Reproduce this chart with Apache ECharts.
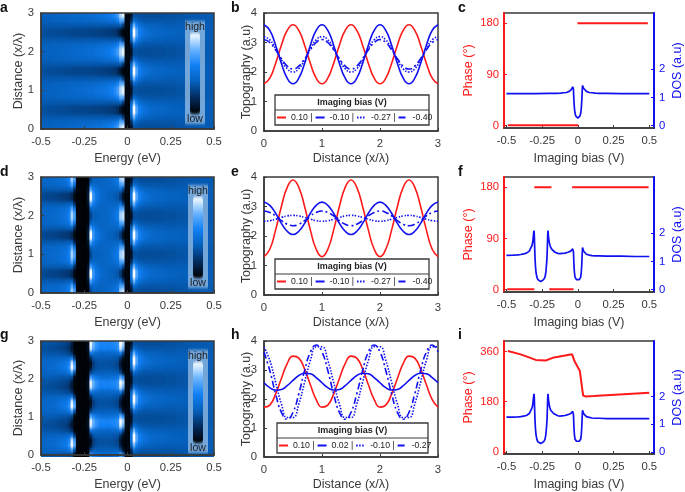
<!DOCTYPE html>
<html>
<head>
<meta charset="utf-8">
<title>Topography panels</title>
<script src="https://cdn.jsdelivr.net/npm/echarts@6/dist/echarts.min.js"></script>
<style>
  html, body { margin: 0; background: #fff; }
  .layer { position: absolute; left: 0; top: 0; width: 685px; height: 492px; }
  #heat { filter: url(#soften); }
</style>
</head>
<body>
<svg width="0" height="0" style="position:absolute">
  <filter id="soften" x="0" y="0" width="100%" height="100%" color-interpolation-filters="sRGB">
    <feGaussianBlur stdDeviation="0.6 1.5"/>
    <feComponentTransfer><feFuncA type="linear" slope="40" intercept="-19"/></feComponentTransfer>
  </filter>
</svg>
<div id="heat" class="layer"></div>
<div id="main" class="layer"></div>
<script>
// heat maps: one period of rows (bottom to top), left half and right half of the energy range
var heatRight = [
  [3,8,34,34,33,33,33,33,33,33,33,33,33,33,34,34,34,34,35,35,35,36,36,36,37,37,37,38,38,38,38,38],
  [3,20,48,42,38,37,36,36,36,36,36,36,36,36,36,36,36,36,37,37,37,37,37,38,38,38,38,38,38,38,38,38],
  [2,40,80,60,50,46,44,42,41,41,40,40,40,40,39,39,39,39,39,39,39,39,39,39,39,39,39,39,39,39,39,39],
  [2,52,100,74,60,54,50,48,46,45,44,44,43,43,42,42,41,41,41,40,40,40,40,40,39,39,39,39,39,39,39,39],
  [2,52,100,74,60,54,50,48,46,45,44,44,43,43,42,42,41,41,41,40,40,40,40,40,39,39,39,39,39,39,39,39],
  [2,40,80,60,50,46,44,42,41,41,40,40,40,40,39,39,39,39,39,39,39,39,39,39,39,39,39,39,39,39,39,39],
  [3,20,48,42,38,37,36,36,36,36,36,36,36,36,36,36,36,36,37,37,37,37,37,38,38,38,38,38,38,38,38,38],
  [3,8,34,34,33,33,33,33,33,33,33,33,33,33,34,34,34,34,35,35,35,36,36,36,37,37,37,38,38,38,38,38]
];
var heatLeftA = [
  [41,41,41,41,42,42,42,43,43,44,44,45,45,46,46,47,47,48,48,49,50,51,52,53,55,57,60,64,72,90,97,4],
  [40,40,40,40,41,41,41,41,42,42,42,43,43,43,44,44,44,45,45,45,46,46,47,48,49,50,52,54,60,76,74,4],
  [37,37,37,37,37,37,37,37,37,37,37,37,37,37,37,37,37,37,37,37,37,37,37,37,37,37,37,37,38,40,25,3],
  [34,34,33,33,33,32,32,32,31,31,31,30,30,30,30,30,30,30,29,29,29,28,28,27,27,26,25,24,20,10,3,2],
  [34,34,33,33,33,32,32,32,31,31,31,30,30,30,30,30,30,30,29,29,29,28,28,27,27,26,25,24,20,10,3,2],
  [37,37,37,37,37,37,37,37,37,37,37,37,37,37,37,37,37,37,37,37,37,37,37,37,37,37,37,37,38,40,25,3],
  [40,40,40,40,41,41,41,41,42,42,42,43,43,43,44,44,44,45,45,45,46,46,47,48,49,50,52,54,60,76,74,4],
  [41,41,41,41,42,42,42,43,43,44,44,45,45,46,46,47,47,48,48,49,50,51,52,53,55,57,60,64,72,90,97,4]
];
var heatLeftD = [
  [44,44,45,45,46,46,47,48,50,53,60,88,72,3,1,1,1,2,30,40,40,41,42,43,44,46,48,52,58,88,92,4],
  [43,43,44,44,45,45,46,47,48,50,55,74,52,3,1,1,1,3,42,46,44,43,43,43,44,45,46,48,52,72,74,4],
  [38,38,38,38,38,38,38,38,38,39,40,42,20,2,1,1,1,8,72,58,50,46,44,43,43,43,43,43,45,50,30,3],
  [32,31,30,30,29,29,28,27,26,25,24,18,4,1,0,0,0,12,100,68,56,50,46,44,42,41,40,38,36,26,8,2],
  [32,31,30,30,29,29,28,27,26,25,24,18,4,1,0,0,0,12,100,68,56,50,46,44,42,41,40,38,36,26,8,2],
  [38,38,38,38,38,38,38,38,38,39,40,42,20,2,1,1,1,8,72,58,50,46,44,43,43,43,43,43,45,50,30,3],
  [43,43,44,44,45,45,46,47,48,50,55,74,52,3,1,1,1,3,42,46,44,43,43,43,44,45,46,48,52,72,74,4],
  [44,44,45,45,46,46,47,48,50,53,60,88,72,3,1,1,1,2,30,40,40,41,42,43,44,46,48,52,58,88,92,4]
];
var heatLeftG = [
  [39,39,39,38,38,38,37,37,36,36,34,30,4,1,1,1,1,4,72,62,56,52,50,49,49,50,51,52,55,76,64,4],
  [42,42,43,43,44,44,45,46,47,49,54,70,35,2,1,1,1,3,30,38,39,40,40,40,40,40,40,40,40,30,10,2],
  [44,44,45,46,47,48,50,52,55,58,66,100,78,4,1,1,1,2,8,28,33,35,35,35,35,35,34,33,30,14,3,2],
  [44,44,45,45,46,47,48,50,52,55,62,94,70,4,1,1,1,2,5,26,32,34,34,34,34,34,33,32,28,10,3,2],
  [41,41,41,42,42,42,43,43,44,45,47,55,25,2,1,1,1,3,20,35,38,38,38,38,38,38,37,36,35,22,6,2],
  [37,37,36,36,36,35,35,34,33,32,29,22,3,1,0,1,1,4,52,50,46,45,44,44,44,44,45,45,46,55,30,3],
  [33,33,33,32,32,31,30,29,28,26,22,10,2,1,0,1,2,8,94,76,66,62,60,60,60,60,61,62,66,94,80,4],
  [35,35,35,34,34,33,32,31,30,29,26,14,2,1,0,1,2,7,98,80,68,64,62,62,62,62,63,64,68,100,90,4]
];
var heatColors = ['#000000', '#032a5c', '#0560bc', '#1080f5', '#6ab4ff', '#ffffff'];

// topography line cuts, x in units of lambda
var distance = [0,0.1,0.2,0.3,0.4,0.5,0.6,0.7,0.8,0.9,1,1.1,1.2,1.3,1.4,1.5,1.6,1.7,1.8,1.9,2,2.1,2.2,2.3,2.4,2.5,2.6,2.7,2.8,2.9,3];

var topoB1 = [1.6,1.79,2.29,2.91,3.41,3.6,3.41,2.91,2.29,1.79,1.6,1.79,2.29,2.91,3.41,3.6,3.41,2.91,2.29,1.79,1.6,1.79,2.29,2.91,3.41,3.6,3.41,2.91,2.29,1.79,1.6];
var topoB2 = [3.6,3.41,2.91,2.29,1.79,1.6,1.79,2.29,2.91,3.41,3.6,3.41,2.91,2.29,1.79,1.6,1.79,2.29,2.91,3.41,3.6,3.41,2.91,2.29,1.79,1.6,1.79,2.29,2.91,3.41,3.6];
var topoB3 = [3.2,3.09,2.79,2.41,2.11,2,2.11,2.41,2.79,3.09,3.2,3.09,2.79,2.41,2.11,2,2.11,2.41,2.79,3.09,3.2,3.09,2.79,2.41,2.11,2,2.11,2.41,2.79,3.09,3.2];
var topoB4 = [3.1,3,2.75,2.45,2.2,2.1,2.2,2.45,2.75,3,3.1,3,2.75,2.45,2.2,2.1,2.2,2.45,2.75,3,3.1,3,2.75,2.45,2.2,2.1,2.2,2.45,2.75,3,3.1];

var topoE1 = [1.3,1.55,2.2,3,3.65,3.9,3.65,3,2.2,1.55,1.3,1.55,2.2,3,3.65,3.9,3.65,3,2.2,1.55,1.3,1.55,2.2,3,3.65,3.9,3.65,3,2.2,1.55,1.3];
var topoE2 = [3.15,3.04,2.77,2.43,2.16,2.05,2.16,2.43,2.77,3.04,3.15,3.04,2.77,2.43,2.16,2.05,2.16,2.43,2.77,3.04,3.15,3.04,2.77,2.43,2.16,2.05,2.16,2.43,2.77,3.04,3.15];
var topoE3 = [2.5,2.52,2.57,2.63,2.68,2.7,2.68,2.63,2.57,2.52,2.5,2.52,2.57,2.63,2.68,2.7,2.68,2.63,2.57,2.52,2.5,2.52,2.57,2.63,2.68,2.7,2.68,2.63,2.57,2.52,2.5];
var topoE4 = [2.85,2.8,2.68,2.52,2.4,2.35,2.4,2.52,2.68,2.8,2.85,2.8,2.68,2.52,2.4,2.35,2.4,2.52,2.68,2.8,2.85,2.8,2.68,2.52,2.4,2.35,2.4,2.52,2.68,2.8,2.85];

var topoH1 = [1.72,1.79,2.17,2.71,3.22,3.48,3.41,3.03,2.49,1.98,1.72,1.79,2.17,2.71,3.22,3.48,3.41,3.03,2.49,1.98,1.72,1.79,2.17,2.71,3.22,3.48,3.41,3.03,2.49,1.98,1.72];
var topoH2 = [2.56,2.39,2.31,2.33,2.46,2.64,2.81,2.89,2.87,2.74,2.56,2.39,2.31,2.33,2.46,2.64,2.81,2.89,2.87,2.74,2.56,2.39,2.31,2.33,2.46,2.64,2.81,2.89,2.87,2.74,2.56];
var topoH3 = [3.8,3.33,2.58,1.83,1.36,1.36,1.83,2.58,3.33,3.8,3.8,3.33,2.58,1.83,1.36,1.36,1.83,2.58,3.33,3.8,3.8,3.33,2.58,1.83,1.36,1.36,1.83,2.58,3.33,3.8,3.8];
var topoH4 = [3.62,2.98,2.18,1.54,1.3,1.54,2.18,2.98,3.62,3.86,3.62,2.98,2.18,1.54,1.3,1.54,2.18,2.98,3.62,3.86,3.62,2.98,2.18,1.54,1.3,1.54,2.18,2.98,3.62,3.86,3.62];

var legendB = ['0.10 |', '-0.10 |', '-0.27 |', '-0.40'];
var legendH = ['0.10 |', '0.02 |', '-0.10 |', '-0.27'];

// phase and DOS against imaging bias
var phaseXC = [-0.49,0.003,0.003,-0.003,0.49];
var phaseC = [1,1,null,180,180];
var biasC = [-0.5,-0.4,-0.3,-0.2,-0.15,-0.12,-0.1,-0.08,-0.07,-0.06,-0.05,-0.045,-0.04,-0.036,-0.033,-0.031,-0.029,-0.027,-0.024,-0.02,-0.015,-0.01,0,0.01,0.015,0.02,0.024,0.027,0.029,0.031,0.033,0.036,0.04,0.045,0.05,0.06,0.07,0.08,0.1,0.12,0.15,0.2,0.3,0.4,0.5];
var dosC = [1.14,1.14,1.14,1.15,1.15,1.16,1.17,1.18,1.2,1.22,1.26,1.29,1.33,1.38,1.43,1.3,1.05,0.85,0.62,0.45,0.35,0.3,0.27,0.3,0.35,0.45,0.62,0.85,1.05,1.3,1.43,1.38,1.33,1.29,1.26,1.22,1.2,1.18,1.17,1.16,1.15,1.15,1.14,1.14,1.14];

var phaseXF = [-0.495,-0.305,-0.305,-0.305,-0.185,-0.185,-0.2,-0.03,-0.03,-0.04,0.495];
var phaseF = [1,1,null,180,180,null,1,1,null,180,180];
var biasF = [-0.5,-0.45,-0.42,-0.4,-0.38,-0.36,-0.35,-0.34,-0.33,-0.32,-0.315,-0.31,-0.307,-0.305,-0.303,-0.3,-0.297,-0.293,-0.287,-0.28,-0.27,-0.26,-0.25,-0.24,-0.23,-0.224,-0.22,-0.216,-0.213,-0.211,-0.209,-0.205,-0.2,-0.195,-0.19,-0.18,-0.17,-0.16,-0.14,-0.125,-0.11,-0.09,-0.07,-0.06,-0.05,-0.045,-0.04,-0.036,-0.033,-0.031,-0.029,-0.027,-0.024,-0.02,-0.015,-0.01,0,0.01,0.015,0.02,0.024,0.027,0.029,0.031,0.033,0.036,0.04,0.045,0.05,0.06,0.07,0.08,0.1,0.12,0.15,0.2,0.3,0.4,0.5];
var dosF = [1.22,1.23,1.24,1.25,1.27,1.3,1.33,1.37,1.44,1.58,1.72,1.98,2.1,1.95,1.6,1.15,0.85,0.62,0.45,0.36,0.31,0.29,0.31,0.36,0.45,0.62,0.85,1.15,1.6,1.95,2.1,1.85,1.68,1.58,1.5,1.42,1.37,1.33,1.29,1.28,1.29,1.3,1.33,1.35,1.37,1.39,1.42,1.45,1.5,1.35,1.1,0.85,0.62,0.45,0.38,0.36,0.35,0.36,0.38,0.45,0.62,0.85,1.1,1.35,1.5,1.43,1.37,1.33,1.3,1.26,1.24,1.23,1.21,1.2,1.2,1.19,1.19,1.18,1.18];

var phaseXI = [-0.49,-0.4,-0.295,-0.225,-0.167,-0.04,-0.023,0.014,0.037,0.053,0.11,0.5];
var phaseI = [362,350,330,328,339,350,325,290,202,199,200,212];
var dosI = [1.25,1.25,1.26,1.27,1.29,1.31,1.34,1.38,1.45,1.59,1.73,1.98,2.09,1.95,1.6,1.15,0.85,0.62,0.45,0.36,0.32,0.3,0.32,0.36,0.45,0.62,0.85,1.15,1.6,1.95,2.09,1.85,1.68,1.58,1.5,1.43,1.38,1.34,1.3,1.29,1.3,1.31,1.34,1.36,1.38,1.4,1.43,1.46,1.5,1.35,1.1,0.85,0.62,0.46,0.4,0.38,0.38,0.38,0.4,0.46,0.62,0.85,1.1,1.35,1.5,1.44,1.38,1.34,1.31,1.27,1.25,1.24,1.22,1.21,1.21,1.2,1.2,1.2,1.2];

var panelLabels = [
  ['a', 0, 1], ['b', 231, 1], ['c', 458, 1],
  ['d', 0, 165], ['e', 231, 165], ['f', 458, 165],
  ['g', 0, 328], ['h', 231, 328], ['i', 458, 328]
];

var INK = '#3a3a3a', RED = '#ff1a1a', BLUE = '#1010f0';
var LONG_DASH = [7, 3, 2, 3];
var TICK_FONT = 11.3;

var grids = [], xAxes = [], yAxes = [], seriesList = [], legends = [], boxes = [], barTexts = [];
// the heat maps sit in their own softened layer under the axes
var heatGrids = [], heatX = [], heatY = [], heatSeries = [], heatMaps = [];

function pairs(xs, ys) {
  return xs.map(function (x, i) { return [x, ys[i]]; });
}

function tickedAxis(extra) {
  var axis = {
    type: 'value',
    axisLine: { show: true, onZero: false, lineStyle: { color: INK, width: 1.5 } },
    axisTick: { show: true, inside: true, length: 3, lineStyle: { color: INK } },
    axisLabel: { color: INK, fontSize: TICK_FONT, margin: 7, fontFamily: 'Liberation Sans' },
    nameTextStyle: { color: INK, fontSize: 12.5, fontFamily: 'Liberation Sans' },
    nameLocation: 'middle',
    nameMoveOverlap: false,
    splitLine: { show: false }
  };
  return Object.assign(axis, extra);
}

function addGrid(left, top, width, height) {
  grids.push({
    left: left, top: top, width: width, height: height,
    show: true, borderColor: INK, borderWidth: 1.5, backgroundColor: 'transparent'
  });
  return grids.length - 1;
}

function addHeatPanel(box, leftRows, bar) {
  var g = addGrid(box[0], box[1], box[2], box[3]);
  xAxes.push(tickedAxis({ gridIndex: g, position: 'bottom', min: -0.5, max: 0.5, interval: 0.25, name: 'Energy (eV)', nameGap: 23 }));
  yAxes.push(tickedAxis({ gridIndex: g, position: 'left', min: 0, max: 3, interval: 1, name: 'Distance (x/λ)', nameGap: 16 }));

  var cols = [], rows = [], data = [];
  for (var c = 0; c < 64; c++) cols.push(String(c));
  for (var r = 0; r < 24; r++) rows.push(String(r));
  for (var period = 0; period < 3; period++) {
    leftRows.forEach(function (row, j) {
      row.concat(heatRight[j]).forEach(function (v, k) {
        data.push([k, period * 8 + j, v]);
      });
    });
  }
  // grid colour behind the cells stops white showing through their antialiased edges
  var h = heatGrids.push({
    left: box[0], top: box[1], width: box[2], height: box[3],
    show: true, borderWidth: 0, backgroundColor: '#0a5aab'
  }) - 1;
  heatX.push({ type: 'category', gridIndex: h, data: cols, show: false });
  heatY.push({ type: 'category', gridIndex: h, data: rows, show: false });
  heatSeries.push({ type: 'heatmap', xAxisIndex: h, yAxisIndex: h, data: data, progressive: 0, silent: true });
  heatMaps.push({
    type: 'continuous', seriesIndex: h, dimension: 2, min: 0, max: 100,
    calculable: false, orient: 'vertical', left: bar[0], top: bar[1], showLabel: false,
    itemWidth: 10, itemHeight: 81, textGap: 0,
    padding: [12, 5, 10, 5], backgroundColor: 'rgba(205,225,245,0.55)',
    inRange: { color: heatColors }
  });
  barTexts.push(['high', bar[0] + 10, bar[1] + 6], ['low', bar[0] + 10, bar[1] + 98]);
}

function addTopoPanel(box, tag, labels, curves, legendBox) {
  var g = addGrid(box[0], box[1], box[2], box[3]);
  var xi = xAxes.push(tickedAxis({ gridIndex: g, min: 0, max: 3, interval: 1, name: 'Distance (x/λ)', nameGap: 21 })) - 1;
  var yi = yAxes.push(tickedAxis({ gridIndex: g, min: 0, max: 4, interval: 1, name: 'Topography (a.u)', nameGap: 11 })) - 1;
  var styles = [
    { color: RED, type: 'solid' }, { color: BLUE, type: 'solid' },
    { color: BLUE, type: [1.5, 1.5] }, { color: BLUE, type: LONG_DASH }
  ];
  var names = labels.map(function (l) { return tag + l; });
  curves.forEach(function (ys, i) {
    seriesList.push({
      type: 'line', name: names[i], xAxisIndex: xi, yAxisIndex: yi, smooth: true,
      showSymbol: false, symbol: 'none', color: styles[i].color,
      lineStyle: { width: 1.6, color: styles[i].color, type: styles[i].type },
      data: pairs(distance, ys)
    });
  });
  legends.push({
    data: names, left: legendBox[0] + 1, top: legendBox[1] + 18, itemWidth: 9, itemHeight: 8,
    itemGap: 2, padding: 0, z: 20, selectedMode: false,
    itemStyle: { color: 'transparent', borderColor: 'transparent', borderWidth: 0 },
    textStyle: { color: '#222', fontSize: 8.7, fontFamily: 'Liberation Sans' },
    formatter: function (n) { return n.slice(1); }
  });
  boxes.push(legendBox);
}

function addPhasePanel(box, phaseX, phaseY, phaseMax, phaseTop, biasX, dosY) {
  var g = addGrid(box[0], box[1], box[2], box[3]);
  var xi = xAxes.push(tickedAxis({
    gridIndex: g, min: -0.517, max: 0.533, name: 'Imaging bias (V)', nameGap: 24,
    axisLabel: { color: INK, fontSize: TICK_FONT, margin: 7, fontFamily: 'Liberation Sans', customValues: [-0.5, -0.25, 0, 0.25, 0.5] },
    axisTick: { show: true, inside: true, length: 3, lineStyle: { color: INK }, customValues: [-0.5, -0.25, 0, 0.25, 0.5] }
  })) - 1;
  var phaseTicks = [0, phaseMax / 2, phaseMax];
  var yl = yAxes.push(tickedAxis({
    gridIndex: g, position: 'left', min: phaseTop[0], max: phaseTop[1], name: 'Phase (°)', nameGap: 29,
    axisLine: { show: true, onZero: false, lineStyle: { color: RED, width: 2 } },
    axisTick: { show: true, inside: true, length: 3, lineStyle: { color: RED }, customValues: phaseTicks },
    axisLabel: { color: RED, fontSize: TICK_FONT, margin: 5, fontFamily: 'Liberation Sans', customValues: phaseTicks },
    nameTextStyle: { color: RED, fontSize: 12.5, fontFamily: 'Liberation Sans' }
  })) - 1;
  var yr = yAxes.push(tickedAxis({
    gridIndex: g, position: 'right', min: -0.08, max: 4, name: 'DOS (a.u)', nameGap: 17,
    axisLine: { show: true, onZero: false, lineStyle: { color: BLUE, width: 2 } },
    axisTick: { show: true, inside: true, length: 3, lineStyle: { color: BLUE }, customValues: [0, 1, 2] },
    axisLabel: { color: BLUE, fontSize: TICK_FONT, margin: 5, fontFamily: 'Liberation Sans', customValues: [0, 1, 2] },
    nameTextStyle: { color: BLUE, fontSize: 12.5, fontFamily: 'Liberation Sans' }
  })) - 1;
  seriesList.push({
    type: 'line', xAxisIndex: xi, yAxisIndex: yl, showSymbol: false, symbol: 'none',
    lineStyle: { width: 2, color: RED }, itemStyle: { color: RED }, data: pairs(phaseX, phaseY)
  });
  seriesList.push({
    type: 'line', xAxisIndex: xi, yAxisIndex: yr, showSymbol: false, symbol: 'none',
    lineStyle: { width: 1.7, color: BLUE }, itemStyle: { color: BLUE }, data: pairs(biasX, dosY)
  });
}

addHeatPanel([41, 13, 173, 116], heatLeftA, [185, 21]);
addTopoPanel([264, 13, 174, 118], 'b', legendB, [topoB1, topoB2, topoB3, topoB4], [275, 95, 154, 30]);
addPhasePanel([504, 13, 150, 115], phaseXC, phaseC, 180, [-4, 198], biasC, dosC);

addHeatPanel([41, 177, 173, 116], heatLeftD, [188, 185]);
addTopoPanel([264, 177, 174, 118], 'e', legendB, [topoE1, topoE2, topoE3, topoE4], [275, 259, 154, 30]);
addPhasePanel([504, 177, 150, 115], phaseXF, phaseF, 180, [-4, 198], biasF, dosF);

addHeatPanel([41, 341, 173, 116], heatLeftG, [188, 350]);
addTopoPanel([264, 341, 174, 118], 'h', legendH, [topoH1, topoH2, topoH3, topoH4], [277, 423, 151, 30]);
addPhasePanel([504, 341, 150, 115], phaseXI, phaseI, 360, [-8, 398], biasF, dosI);

var graphicItems = [];
boxes.forEach(function (b) {
  graphicItems.push({
    type: 'rect', z: 10, shape: { x: b[0], y: b[1], width: b[2], height: b[3] },
    style: { fill: '#fff', stroke: INK, lineWidth: 1.3 }
  });
  graphicItems.push({
    type: 'line', z: 11, shape: { x1: b[0], y1: b[1] + 15, x2: b[0] + b[2], y2: b[1] + 15 },
    style: { stroke: INK, lineWidth: 1.2 }
  });
  graphicItems.push({
    type: 'text', z: 11, x: b[0] + b[2] / 2, y: b[1] + 8,
    style: { text: 'Imaging bias (V)', fill: '#222', font: 'bold 9px "Liberation Sans"', textAlign: 'center', textVerticalAlign: 'middle' }
  });
});
// colour bar captions stay sharp, so they live in the top layer
barTexts.forEach(function (t) {
  graphicItems.push({
    type: 'text', z: 11, x: t[1], y: t[2],
    style: { text: t[0], fill: '#1a1a1a', font: '10.5px "Liberation Sans"', textAlign: 'center', textVerticalAlign: 'middle' }
  });
});

var heatChart = echarts.init(document.getElementById('heat'));
heatChart.setOption({
  animation: false,
  grid: heatGrids,
  xAxis: heatX,
  yAxis: heatY,
  visualMap: heatMaps,
  series: heatSeries
});

var chart = echarts.init(document.getElementById('main'));
chart.setOption({
  animation: false,
  title: panelLabels.map(function (p) {
    return {
      text: p[0], left: p[1], top: p[2], padding: 0,
      textStyle: { color: '#111', fontSize: 14, fontWeight: 'bold', fontFamily: 'Liberation Sans' }
    };
  }),
  grid: grids,
  xAxis: xAxes,
  yAxis: yAxes,
  legend: legends,
  graphic: graphicItems,
  series: seriesList
});
</script>
</body>
</html>
